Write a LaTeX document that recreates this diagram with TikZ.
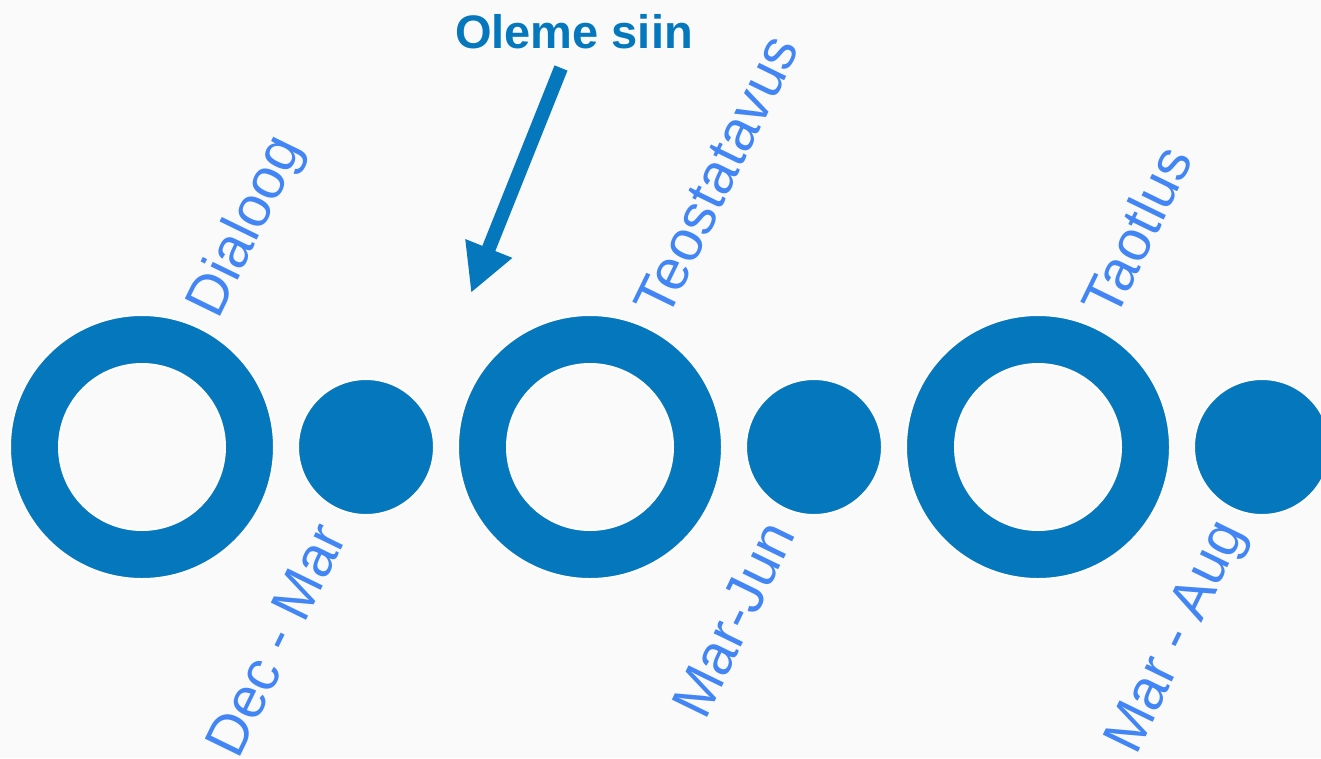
\documentclass[tikz,border=0pt]{standalone}
\usepackage{fontspec}
\setmainfont{Liberation Sans}
\usetikzlibrary{arrows.meta}
\definecolor{bg}{HTML}{FAFAFA}
\definecolor{dblue}{HTML}{0477BD}
\definecolor{lblue}{HTML}{4285F4}
\begin{document}
\begin{tikzpicture}[x=1pt,y=-1pt,
  ring/.style={circle, inner sep=0pt, minimum size=264pt, fill=dblue, draw=white, line width=2pt},
  hole/.style={circle, inner sep=0pt, minimum size=166pt, fill=bg, draw=white, line width=2pt},
  dot/.style={circle, inner sep=0pt, minimum size=136pt, fill=dblue, draw=white, line width=2pt},
  lab/.style={anchor=base west, inner sep=0pt, rotate=64, text=lblue, font=\fontsize{57}{57}\selectfont},
  pointer/.style={draw=dblue, line width=14pt, -{Triangle[width=47pt,length=48pt]}},
  title/.style={anchor=base, inner sep=0pt, text=dblue, font=\bfseries\fontsize{47}{47}\selectfont}]
\useasboundingbox (0,0) rectangle (1321,758);
\fill[bg] (0,0) rectangle (1321,758);
% rings and dots
\node[ring] (r1) at (142,447) {};
\node[hole] (h1) at (142,447) {};
\node[dot] (d1) at (366,447) {};
\node[ring] (r2) at (590,447) {};
\node[hole] (h2) at (590,447) {};
\node[dot] (d2) at (814,447) {};
\node[ring] (r3) at (1038,447) {};
\node[hole] (h3) at (1038,447) {};
\node[dot] (d3) at (1262,447) {};
% labels
\node[lab] (t1) at (218,321) {Dialoog};
\node[lab] (t2) at (667,321) {Teostatavus};
\node[lab] (t3) at (1115,321) {Taotlus};
\node[lab] (b1) at (238,761) {Dec - Mar};
\node[lab] (b2) at (705,722) {Mar-Jun};
\node[lab] (b3) at (1136,757) {Mar - Aug};
% pointer
\node[title] (here) at (574,48) {Oleme siin};
\coordinate (ps) at (561,68);
\coordinate (pe) at (471,293);
\draw[pointer] (ps) -- (pe);
\end{tikzpicture}
\end{document}
